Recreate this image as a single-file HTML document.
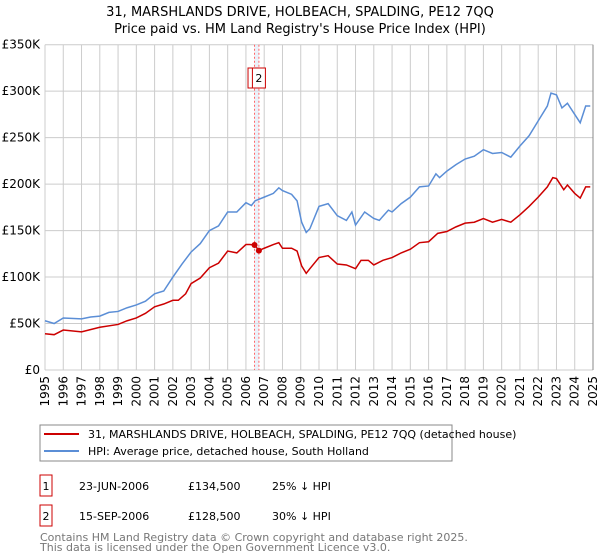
<!DOCTYPE html>
<html><head><meta charset="utf-8"><style>
body{margin:0;background:#fff;font-family:"Liberation Sans","DejaVu Sans",sans-serif;}
svg{display:block}
</style></head><body>
<svg width="600" height="560" xmlns="http://www.w3.org/2000/svg" font-family="DejaVu Sans, Liberation Sans, sans-serif">
<text x="300" y="16" text-anchor="middle" font-size="13" fill="#000">31, MARSHLANDS DRIVE, HOLBEACH, SPALDING, PE12 7QQ</text>
<text x="300" y="33" text-anchor="middle" font-size="13" fill="#000">Price paid vs. HM Land Registry's House Price Index (HPI)</text>
<g id="grid"></g>
<g id="marks"></g>
<g id="series"></g>
<g id="axes"></g>
<g>
<rect x="40" y="425" width="412" height="36" fill="#fff" stroke="#888"/>
<line x1="44" y1="434" x2="79" y2="434" stroke="#cc0000" stroke-width="2"/>
<text x="88" y="438" font-size="11">31, MARSHLANDS DRIVE, HOLBEACH, SPALDING, PE12 7QQ (detached house)</text>
<line x1="44" y1="451" x2="79" y2="451" stroke="#5b8ed6" stroke-width="2"/>
<text x="88" y="455" font-size="11">HPI: Average price, detached house, South Holland</text>
</g>
<g font-size="11">
<rect x="40" y="475" width="12" height="21" fill="none" stroke="#cc0000"/>
<text x="46" y="490" text-anchor="middle">1</text>
<text x="79" y="490">23-JUN-2006</text>
<text x="188" y="490">£134,500</text>
<text x="272" y="490">25% ↓ HPI</text>
<rect x="40" y="505" width="12" height="21" fill="none" stroke="#cc0000"/>
<text x="46" y="520" text-anchor="middle">2</text>
<text x="79" y="520">15-SEP-2006</text>
<text x="188" y="520">£128,500</text>
<text x="272" y="520">30% ↓ HPI</text>
</g>
<text x="40" y="541" font-size="11" fill="#777">Contains HM Land Registry data © Crown copyright and database right 2025.</text>
<text x="40" y="551" font-size="11" fill="#777">This data is licensed under the Open Government Licence v3.0.</text>
</svg>
<script>
const yearTicks=[1995,1996,1997,1998,1999,2000,2001,2002,2003,2004,2005,2006,2007,2008,2009,2010,2011,2012,2013,2014,2015,2016,2017,2018,2019,2020,2021,2022,2023,2024,2025];
const valueTicks=[0,50,100,150,200,250,300,350];
const valueTickLabels=["£0","£50K","£100K","£150K","£200K","£250K","£300K","£350K"];
const hpiDates=[1995,1995.5,1996,1997,1997.5,1998,1998.5,1999,1999.5,2000,2000.5,2001,2001.5,2002,2002.5,2003,2003.5,2004,2004.5,2005,2005.5,2006,2006.3,2006.5,2007,2007.5,2007.8,2008,2008.5,2008.8,2009.05,2009.3,2009.5,2010,2010.5,2011,2011.5,2011.8,2012,2012.5,2013,2013.3,2013.8,2014,2014.5,2015,2015.5,2016,2016.4,2016.6,2017,2017.5,2018,2018.5,2019,2019.5,2020,2020.5,2021,2021.5,2022,2022.5,2022.7,2023,2023.3,2023.6,2024,2024.3,2024.6,2024.85];
const hpiValues=[53,50,56,55,57,58,62,63,67,70,74,82,85,100,114,127,136,150,155,170,170,180,177,182,186,190,196,193,189,182,159,148,152,176,179,166,161,170,156,170,163,161,172,170,179,186,197,198,211,207,214,221,227,230,237,233,234,229,241,252,268,284,298,296,282,287,275,266,284,284];
const priceDates=[1995,1995.5,1996,1997,1998,1999,1999.5,2000,2000.5,2001,2001.5,2002,2002.3,2002.7,2003,2003.5,2004,2004.5,2005,2005.5,2006,2006.2,2006.47,2006.71,2007,2007.5,2007.8,2008,2008.5,2008.8,2009.05,2009.3,2009.5,2010,2010.5,2011,2011.5,2012,2012.3,2012.7,2013,2013.5,2014,2014.5,2015,2015.5,2016,2016.5,2017,2017.5,2018,2018.5,2019,2019.5,2020,2020.5,2021,2021.5,2022,2022.5,2022.8,2023,2023.4,2023.6,2024,2024.3,2024.6,2024.85];
const priceValues=[39,38,43,41,46,49,53,56,61,68,71,75,75,82,93,99,110,115,128,126,135,135,134.5,128.5,131,135,137,131,131,128,112,104,109,121,123,114,113,109,118,118,113,118,121,126,130,137,138,147,149,154,158,159,163,159,162,159,167,176,186,197,207,206,194,199,190,185,197,197];
const saleDates=[2006.47,2006.71];
const saleLabels=["1","2"];
const NS="http://www.w3.org/2000/svg";
const X=t=>45+(t-1995)*(548/30);
const Y=v=>370-v*(325.3/350);
function mk(tag,attrs,parent){const e=document.createElementNS(NS,tag);for(const k in attrs)e.setAttribute(k,attrs[k]);parent.appendChild(e);return e;}
const grid=document.getElementById('grid'),axes=document.getElementById('axes'),series=document.getElementById('series'),marks=document.getElementById('marks');
valueTicks.forEach((v,i)=>{
 const l=mk('line',{x1:45,x2:593,y1:Y(v),y2:Y(v),stroke:'#cccccc','stroke-width':1},grid);
 
 
 const t=mk('text',{x:40,y:Y(v)+4,'text-anchor':'end','font-size':12},axes);
 t.textContent=valueTickLabels[i];
 
 
});
yearTicks.forEach(yr=>{
 const l=mk('line',{x1:X(yr),x2:X(yr),y1:Y(350),y2:370,stroke:'#cccccc','stroke-width':1},grid);
 
 
 const t=mk('text',{x:0,y:0,'text-anchor':'end','font-size':12,transform:`translate(${X(yr)+4},376) rotate(-90)`},axes);
 t.textContent=yr;
 
 
});
const edge=mk('line',{x1:593,x2:593,y1:Y(350),y2:370,stroke:'#888','stroke-width':1},axes);


const band=mk('rect',{x:X(saleDates[0]),y:Y(350),width:X(saleDates[1])-X(saleDates[0]),height:370-Y(350),fill:'#dde8f7',opacity:0.6},marks);


saleDates.forEach((d,i)=>{
 const l=mk('line',{x1:X(d),x2:X(d),y1:Y(350),y2:370,stroke:'#ff6666','stroke-width':1,'stroke-dasharray':'2,2'},marks);
 
 
 const r=mk('rect',{x:X(d)-6.5,y:68,width:13,height:20,fill:'#fff',stroke:'#cc0000'},marks);
 
 
 const t=mk('text',{x:X(d),y:82,'text-anchor':'middle','font-size':11},marks);
 t.textContent=saleLabels[i];
 
 
});
const hp=mk('polyline',{points:hpiDates.map((d,i)=>X(d)+','+Y(hpiValues[i])).join(' '),fill:'none',stroke:'#5b8ed6','stroke-width':1.5},series);


const pp=mk('polyline',{points:priceDates.map((d,i)=>X(d)+','+Y(priceValues[i])).join(' '),fill:'none',stroke:'#cc0000','stroke-width':1.5},series);


saleDates.forEach((d,i)=>{
 const v=priceValues[priceDates.indexOf(d)];
 const c=mk('circle',{cx:X(d),cy:Y(v),r:3,fill:'#cc0000'},series);
 
 
});
</script>
</body></html>
